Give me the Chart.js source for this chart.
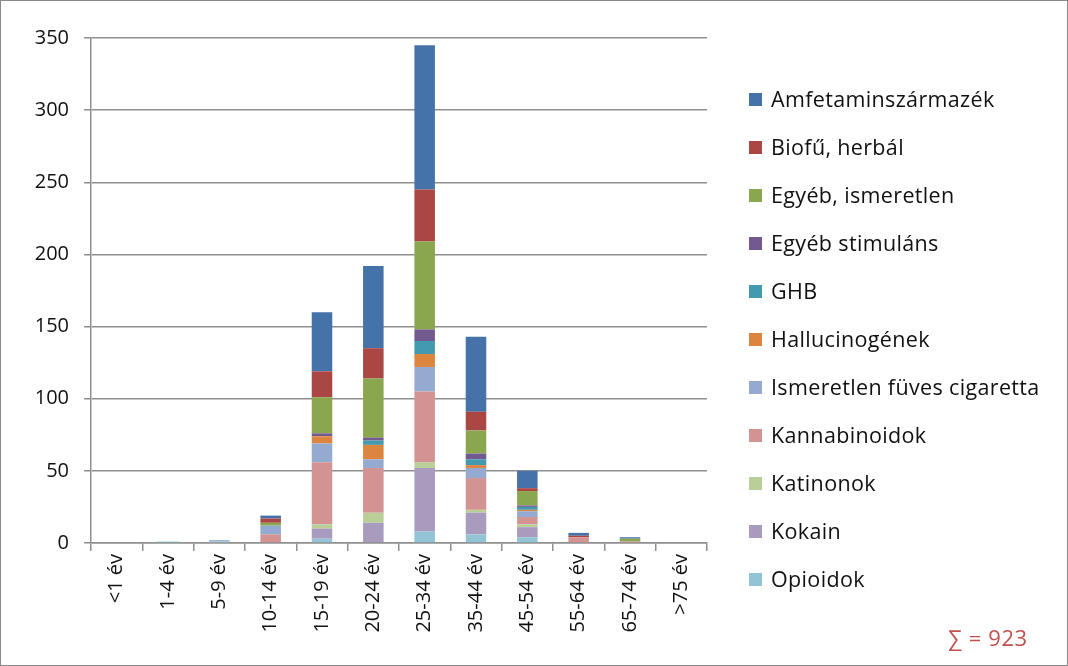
<!DOCTYPE html>
<html>
<head>
<meta charset="utf-8">
<script src="https://cdn.jsdelivr.net/npm/chart.js@4/dist/chart.umd.min.js"></script>
<style>
    html, body { margin: 0; padding: 0; background: #fff; }
    #wrap { position: relative; width: 1066px; height: 664px; border: 1px solid #8a8a8a; overflow: hidden; }
    #chart { position: absolute; left: 0; top: 0; }
    #legend { position: absolute; left: 748px; top: 84px; font-family: 'Open Sans', Lato, sans-serif; font-size: 21.5px; letter-spacing: 0.35px; color: #111; }
    .item { height: 48px; display: flex; align-items: flex-start; white-space: nowrap; line-height: 28px; }
    .box { width: 13px; height: 13px; margin: 8px 9px 0 0; flex: none; }
    #sum { position: absolute; left: 947px; top: 621px; font-family: 'Open Sans', Lato, sans-serif; font-size: 22px; letter-spacing: 0.6px; color: #c0504d; }
</style>
</head>
<body>
<div id="wrap">
    <canvas id="chart" width="1066" height="664"></canvas>
    <div id="legend"></div>
    <div id="sum">∑ = 923</div>
</div>
<script>
// Age groups
const categories = ['<1 év', '1-4 év', '5-9 év', '10-14 év', '15-19 év', '20-24 év', '25-34 év', '35-44 év', '45-54 év', '55-64 év', '65-74 év', '>75 év'];

// Series, bottom of the stack first
const opioidok      = [0, 1, 1, 0, 3, 0, 8, 6, 4, 0, 0, 0];
const kokain        = [0, 0, 0, 0, 7, 14, 44, 15, 7, 0, 0, 0];
const katinonok     = [0, 0, 0, 0, 3, 7, 4, 2, 2, 0, 0, 0];
const kannabinoidok = [0, 0, 0, 6, 43, 31, 49, 22, 5, 4, 1, 0];
const ismeretlen    = [0, 0, 1, 6, 13, 6, 17, 7, 4, 0, 0, 0];
const hallucinogen  = [0, 0, 0, 0, 5, 10, 9, 2, 1, 0, 0, 0];
const ghb           = [0, 0, 0, 0, 0, 3, 9, 4, 2, 0, 0, 0];
const egyebStim     = [0, 0, 0, 0, 2, 2, 8, 4, 1, 0, 0, 0];
const egyebIsm      = [0, 0, 0, 2, 25, 41, 61, 16, 10, 0, 2, 0];
const biofu         = [0, 0, 0, 3, 18, 21, 36, 13, 2, 1, 0, 0];
const amfetamin     = [0, 0, 0, 2, 41, 57, 100, 52, 12, 2, 1, 0];

const seriesNames = ['Opioidok', 'Kokain', 'Katinonok', 'Kannabinoidok', 'Ismeretlen füves cigaretta',
    'Hallucinogének', 'GHB', 'Egyéb stimuláns', 'Egyéb, ismeretlen', 'Biofű, herbál', 'Amfetaminszármazék'];
const seriesValues = [opioidok, kokain, katinonok, kannabinoidok, ismeretlen, hallucinogen, ghb, egyebStim, egyebIsm, biofu, amfetamin];
const seriesColors = ['#92c4d6', '#a99bbd', '#bacf98', '#d29392', '#94aad0', '#dc853e', '#4299b0', '#72598f', '#8aa64f', '#aa4744', '#4572a8'];

const yTicks = [0, 50, 100, 150, 200, 250, 300, 350];

Chart.defaults.font.family = "'Open Sans', Lato, sans-serif";
Chart.defaults.color = '#111';

const gridColor = '#8f8f8f';

const ctx = document.getElementById('chart').getContext('2d');
new Chart(ctx, {
    type: 'bar',
    data: {
        labels: categories,
        datasets: seriesNames.map((name, i) => ({
            label: name,
            data: seriesValues[i],
            backgroundColor: seriesColors[i],
            borderWidth: 0,
            categoryPercentage: 1,
            barPercentage: 0.4
        }))
    },
    options: {
        responsive: false,
        animation: false,
        layout: { padding: { left: 0, right: 360, top: 37, bottom: 0 } },
        plugins: {
            legend: { display: false },
            tooltip: { enabled: false }
        },
        scales: {
            x: {
                stacked: true,
                grid: { display: true, drawOnChartArea: false, drawTicks: true, tickLength: 8, color: gridColor, lineWidth: 1.5 },
                border: { color: gridColor, width: 1.5 },
                ticks: { minRotation: 90, maxRotation: 90, padding: 3, font: { size: 20 } },
                afterFit: (s) => { s.height = 122; }
            },
            y: {
                stacked: true,
                min: 0,
                max: 350,
                afterBuildTicks: (s) => { s.ticks = yTicks.map(v => ({ value: v })); },
                grid: { color: gridColor, lineWidth: 1.5, drawTicks: true, tickLength: 7 },
                border: { color: gridColor, width: 1.5 },
                ticks: { padding: 15, font: { size: 20 } },
                afterFit: (s) => { s.width = 90; }
            }
        }
    }
});

// Legend, top item = last series (like Excel)
const legend = document.getElementById('legend');
for (let i = seriesNames.length - 1; i >= 0; i--) {
    const row = document.createElement('div');
    row.className = 'item';
    row.innerHTML = '<span class="box" style="background:' + seriesColors[i] + '"></span><span>' + seriesNames[i] + '</span>';
    legend.appendChild(row);
}
</script>
</body>
</html>
